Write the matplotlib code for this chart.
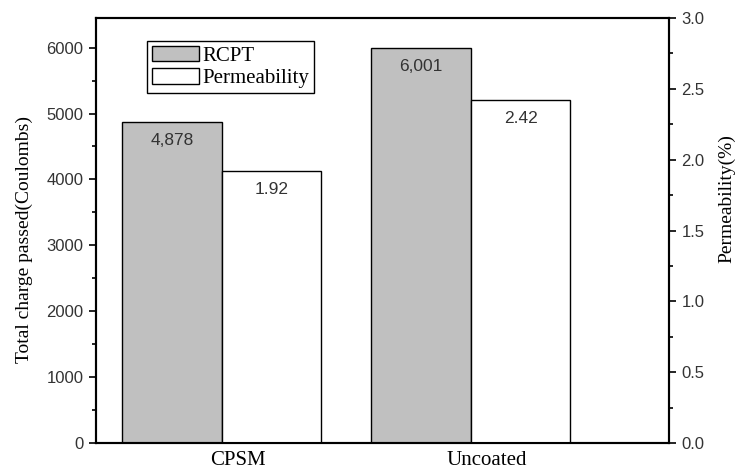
import numpy as np
import matplotlib.pyplot as plt
from matplotlib.patches import Patch
from matplotlib.ticker import MultipleLocator

# --- data ---
categories = ['CPSM', 'Uncoated']
rcpt = [4878, 6001]            # Total charge passed (Coulombs)
permeability = [1.92, 2.42]    # %
rcpt_labels = ['4,878', '6,001']
perm_labels = ['1.92', '2.42']

SERIF = 'Liberation Serif'
SANS = 'Liberation Sans'
GREY = '#c0c0c0'

fig = plt.figure(figsize=(7.37, 4.70), dpi=100)
ax = fig.add_axes([0.1303, 0.0574, 0.7774, 0.9043])
ax2 = ax.twinx()

x = np.arange(len(categories))
w = 0.4

ax.bar(x - w / 2, rcpt, width=w, color=GREY, edgecolor='black', linewidth=1.0, zorder=2)
ax2.bar(x + w / 2, permeability, width=w, color='white', edgecolor='black', linewidth=1.0, zorder=2)

# value labels just inside the bar tops
for xi, v, lab in zip(x, rcpt, rcpt_labels):
    ax.annotate(lab, (xi - w / 2, v), xytext=(0, -13.5), textcoords='offset points',
                ha='center', va='center', fontsize=12.5, family=SANS, color='#333333')
for xi, v, lab in zip(x, permeability, perm_labels):
    ax2.annotate(lab, (xi + w / 2, v), xytext=(0, -13.5), textcoords='offset points',
                 ha='center', va='center', fontsize=12.5, family=SANS, color='#333333')

ax.set_xlim(-0.505, 1.796)
ax.set_ylim(0, 6450)
ax2.set_ylim(0, 3.0)

ax.set_xticks(x + 0.065)
ax.set_xticklabels(categories, fontsize=15, family=SERIF)
ax.tick_params(axis='x', length=0, pad=6)

ax.yaxis.set_major_locator(MultipleLocator(1000))
ax.yaxis.set_minor_locator(MultipleLocator(500))
ax2.yaxis.set_major_locator(MultipleLocator(0.5))
ax2.yaxis.set_minor_locator(MultipleLocator(0.25))
ax2.set_yticks(np.arange(0, 3.01, 0.5))
ax2.set_yticklabels([f'{t:.1f}' for t in np.arange(0, 3.01, 0.5)])

for a in (ax, ax2):
    a.tick_params(axis='y', which='major', length=5, width=1.2, labelsize=12, pad=4)
    a.tick_params(axis='y', which='minor', length=3, width=1.2)
    for lab in a.get_yticklabels():
        lab.set_family(SANS)
        lab.set_color('#333333')
    for s in a.spines.values():
        s.set_linewidth(1.5)

ax.set_ylabel('Total charge passed(Coulombs)', fontsize=14, family=SERIF)
ax.yaxis.set_label_coords(-0.11, 0.48)
ax2.set_ylabel('Permeability(%)', fontsize=14, family=SERIF)
ax2.yaxis.set_label_coords(1.085, 0.574)

handles = [Patch(facecolor=GREY, edgecolor='black', linewidth=1.0, label='RCPT'),
           Patch(facecolor='white', edgecolor='black', linewidth=1.0, label='Permeability')]
leg = ax.legend(handles=handles, loc='upper left', bbox_to_anchor=(0.089, 0.9466),
                borderaxespad=0, fancybox=False, edgecolor='black', framealpha=1,
                prop={'family': SERIF, 'size': 15}, handlelength=2.25,
                handleheight=0.75, handletextpad=0.15, labelspacing=0.12,
                borderpad=0.25)
leg.get_frame().set_linewidth(1.0)
leg.set_zorder(5)

fig.savefig('out.png', dpi=100)
